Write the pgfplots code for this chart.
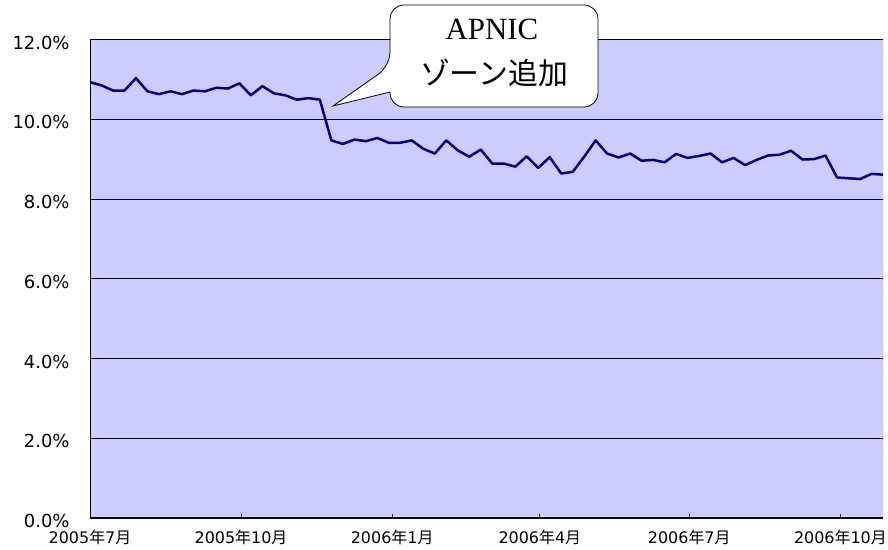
\documentclass[border=0pt]{standalone}
\usepackage{fontspec}
\setmainfont{DejaVu Sans}
\newfontfamily\cjk{Noto Sans CJK JP}
\newfontfamily\seriffont{Liberation Serif}
\usepackage{pgfplots}
\pgfplotsset{compat=1.18}
\definecolor{plotbg}{HTML}{CCCCFF}
\definecolor{navyline}{HTML}{000080}
\newcommand{\ym}[2]{#1{\cjk 年}#2{\cjk 月}}
\begin{document}
\begin{tikzpicture}
\path[use as bounding box] (0,0) rectangle (888bp,550bp);
\begin{axis}[
  at={(90bp,32bp)}, anchor=south west,
  scale only axis, width=793bp, height=478.5bp,
  xmin=0, xmax=69, ymin=0, ymax=12,
  axis background/.style={fill=plotbg},
  axis line style={draw=none},
  ytick={0,2,4,6,8,10,12},
  yticklabels={0.0\%,2.0\%,4.0\%,6.0\%,8.0\%,10.0\%,12.0\%},
  xtick={0,13.14,26.29,39.14,52.14,65.29},
  xticklabels={\ym{2005}{7},\ym{2005}{10},\ym{2006}{1},\ym{2006}{4},\ym{2006}{7},\ym{2006}{10}},
  ymajorgrids, grid style={black, line width=0.8bp},
  tick align=inside, xtick pos=bottom, ytick pos=left,
  major tick length=4bp,
  xtick style={black, line width=0.8bp},
  ytick style={draw=none},
  /pgf/number format/assume math mode=true,
  yticklabel style={font=\fontsize{18}{18}\selectfont, xshift=-17bp, yshift=-3bp},
  xticklabel style={font=\fontsize{16}{16}\selectfont, yshift=-10.5bp, inner sep=1bp},
  clip=true,
]
\addplot[navyline, line width=2.5bp, line join=round, mark=none] coordinates {
(0,10.93) (1,10.85) (2,10.72) (3,10.72) (4,11.03) (5,10.70) (6,10.63) (7,10.70)
(8,10.63) (9,10.72) (10,10.70) (11,10.79) (12,10.77) (13,10.90) (14,10.60) (15,10.83)
(16,10.65) (17,10.60) (18,10.49) (19,10.53) (20,10.49) (21,9.47) (22,9.38) (23,9.49)
(24,9.45) (25,9.53) (26,9.41) (27,9.41) (28,9.47) (29,9.26) (30,9.14) (31,9.47)
(32,9.22) (33,9.06) (34,9.24) (35,8.89) (36,8.89) (37,8.81) (38,9.07) (39,8.78)
(40,9.05) (41,8.64) (42,8.68) (43,9.06) (44,9.47) (45,9.14) (46,9.04) (47,9.14)
(48,8.96) (49,8.98) (50,8.92) (51,9.13) (52,9.03) (53,9.08) (54,9.14) (55,8.92)
(56,9.03) (57,8.85) (58,8.98) (59,9.09) (60,9.11) (61,9.21) (62,8.99) (63,9.00)
(64,9.09) (65,8.54) (66,8.52) (67,8.50) (68,8.63) (69,8.61)
};
\draw[black, line width=0.8bp] (rel axis cs:0,1) -- (rel axis cs:1,1);
\draw[gray, line width=0.8bp] (rel axis cs:1,1) -- (rel axis cs:1,0);
\draw[black, line width=1.6bp] (rel axis cs:0,1) -- (rel axis cs:0,0) -- (rel axis cs:1,0);
\end{axis}
\draw[black, fill=white, line width=0.8bp]
  (390bp,458bp) [rounded corners=14bp] -- (390bp,443bp) -- (598bp,443bp) -- (598bp,545bp) -- (390bp,545bp) -- (390bp,484bp) [sharp corners] -- (333bp,444bp) -- cycle;
\node[font=\seriffont\fontsize{31}{31}\selectfont, inner sep=0pt] at (492bp,521bp) {APNIC};
\node[font=\cjk\fontsize{30}{30}\selectfont, inner sep=0pt] at (494bp,477bp) {ゾーン追加};
\end{tikzpicture}
\end{document}
